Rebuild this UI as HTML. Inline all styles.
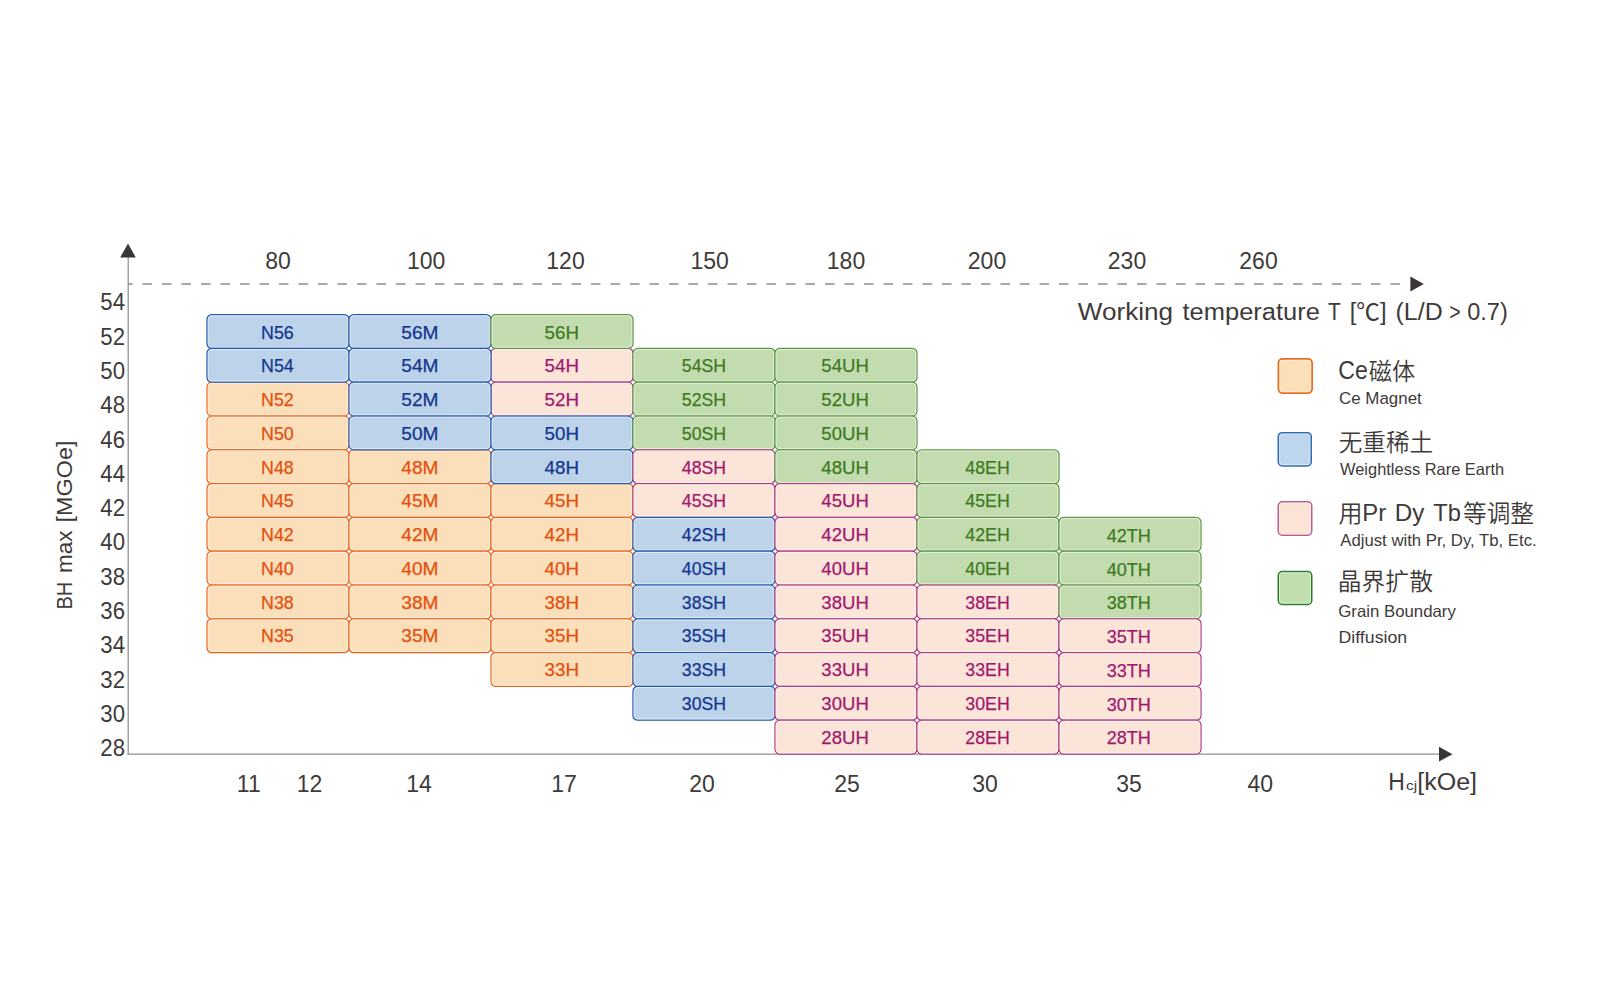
<!DOCTYPE html>
<html lang="zh">
<head>
<meta charset="utf-8">
<title>NdFeB grade chart</title>
<style>
html,body{margin:0;padding:0;background:#fff;}
body{width:1600px;height:999px;overflow:hidden;}
svg{display:block;}
text{font-family:"Liberation Sans","Noto Sans CJK SC",sans-serif;}
.ax{fill:#3e3a39;font-size:23px;}
.c{font-size:18.5px;text-anchor:middle;stroke-width:0.25px;}
.o rect{fill:#fbdfba;stroke:#ec631e;} .o text{fill:#e4500f;stroke:#e4500f;}
.b rect{fill:#bdd3ea;stroke:#2459ae;} .b text{fill:#12368f;stroke:#12368f;}
.p rect{fill:#fbe4d8;stroke:#ab3a84;} .p text{fill:#a2186e;stroke:#a2186e;}
.g rect{fill:#c2dcb0;stroke:#5f9443;} .g text{fill:#3f7a21;stroke:#3f7a21;}
rect.k{stroke-width:1.25;}
rect.hl{fill:none!important;stroke:#fff!important;stroke-opacity:0.55;stroke-width:1;}
.lz{fill:#3e3a39;font-size:24px;font-weight:350;}
.le{fill:#3e3a39;font-size:16.5px;}
</style>
</head>
<body>
<svg width="1600" height="999" viewBox="0 0 1600 999">
<rect x="0" y="0" width="1600" height="999" fill="#ffffff"/>

<line x1="128.2" y1="256" x2="128.2" y2="754.8" stroke="#909090" stroke-width="1.25"/>
<line x1="127.6" y1="754.2" x2="1440" y2="754.2" stroke="#909090" stroke-width="1.25"/>
<polygon points="128,243.5 135.8,257.5 120.2,257.5" fill="#3a3535"/>
<polygon points="1452.5,754.2 1439,746.8 1439,761.6" fill="#3a3535"/>
<line x1="128" y1="284" x2="1402" y2="284" stroke="#8e8e8e" stroke-width="1.4" stroke-dasharray="9.5 10" stroke-dashoffset="5"/>
<polygon points="1423.8,284 1410.4,276.6 1410.4,291.4" fill="#3a3535"/>
<g class="o"><rect class="k" x="207.0" y="382.2" width="142.0" height="33.8" rx="4.8" ry="4.8"/><rect class="hl" x="208.2" y="383.4" width="139.7" height="31.5" rx="3.6" ry="3.6"/><text class="c" x="277.4" y="406.2" textLength="32.7" lengthAdjust="spacingAndGlyphs">N52</text></g>
<g class="o"><rect class="k" x="207.0" y="416.0" width="142.0" height="33.8" rx="4.8" ry="4.8"/><rect class="hl" x="208.2" y="417.1" width="139.7" height="31.5" rx="3.6" ry="3.6"/><text class="c" x="277.4" y="439.9" textLength="32.7" lengthAdjust="spacingAndGlyphs">N50</text></g>
<g class="o"><rect class="k" x="207.0" y="449.8" width="142.0" height="33.8" rx="4.8" ry="4.8"/><rect class="hl" x="208.2" y="450.9" width="139.7" height="31.5" rx="3.6" ry="3.6"/><text class="c" x="277.4" y="473.7" textLength="32.7" lengthAdjust="spacingAndGlyphs">N48</text></g>
<g class="o"><rect class="k" x="349.0" y="449.8" width="142.0" height="33.8" rx="4.8" ry="4.8"/><rect class="hl" x="350.1" y="450.9" width="139.7" height="31.5" rx="3.6" ry="3.6"/><text class="c" x="419.9" y="473.7" textLength="37.2" lengthAdjust="spacingAndGlyphs">48M</text></g>
<g class="o"><rect class="k" x="207.0" y="483.6" width="142.0" height="33.8" rx="4.8" ry="4.8"/><rect class="hl" x="208.2" y="484.8" width="139.7" height="31.5" rx="3.6" ry="3.6"/><text class="c" x="277.4" y="507.4" textLength="32.7" lengthAdjust="spacingAndGlyphs">N45</text></g>
<g class="o"><rect class="k" x="349.0" y="483.6" width="142.0" height="33.8" rx="4.8" ry="4.8"/><rect class="hl" x="350.1" y="484.8" width="139.7" height="31.5" rx="3.6" ry="3.6"/><text class="c" x="419.9" y="507.4" textLength="37.2" lengthAdjust="spacingAndGlyphs">45M</text></g>
<g class="o"><rect class="k" x="491.0" y="483.6" width="142.0" height="33.8" rx="4.8" ry="4.8"/><rect class="hl" x="492.1" y="484.8" width="139.7" height="31.5" rx="3.6" ry="3.6"/><text class="c" x="561.8" y="507.4" textLength="34.4" lengthAdjust="spacingAndGlyphs">45H</text></g>
<g class="o"><rect class="k" x="207.0" y="517.4" width="142.0" height="33.8" rx="4.8" ry="4.8"/><rect class="hl" x="208.2" y="518.5" width="139.7" height="31.5" rx="3.6" ry="3.6"/><text class="c" x="277.4" y="541.2" textLength="32.7" lengthAdjust="spacingAndGlyphs">N42</text></g>
<g class="o"><rect class="k" x="349.0" y="517.4" width="142.0" height="33.8" rx="4.8" ry="4.8"/><rect class="hl" x="350.1" y="518.5" width="139.7" height="31.5" rx="3.6" ry="3.6"/><text class="c" x="419.9" y="541.2" textLength="37.2" lengthAdjust="spacingAndGlyphs">42M</text></g>
<g class="o"><rect class="k" x="491.0" y="517.4" width="142.0" height="33.8" rx="4.8" ry="4.8"/><rect class="hl" x="492.1" y="518.5" width="139.7" height="31.5" rx="3.6" ry="3.6"/><text class="c" x="561.8" y="541.2" textLength="34.4" lengthAdjust="spacingAndGlyphs">42H</text></g>
<g class="o"><rect class="k" x="207.0" y="551.2" width="142.0" height="33.8" rx="4.8" ry="4.8"/><rect class="hl" x="208.2" y="552.4" width="139.7" height="31.5" rx="3.6" ry="3.6"/><text class="c" x="277.4" y="575.0" textLength="32.7" lengthAdjust="spacingAndGlyphs">N40</text></g>
<g class="o"><rect class="k" x="349.0" y="551.2" width="142.0" height="33.8" rx="4.8" ry="4.8"/><rect class="hl" x="350.1" y="552.4" width="139.7" height="31.5" rx="3.6" ry="3.6"/><text class="c" x="419.9" y="575.0" textLength="37.2" lengthAdjust="spacingAndGlyphs">40M</text></g>
<g class="o"><rect class="k" x="491.0" y="551.2" width="142.0" height="33.8" rx="4.8" ry="4.8"/><rect class="hl" x="492.1" y="552.4" width="139.7" height="31.5" rx="3.6" ry="3.6"/><text class="c" x="561.8" y="575.0" textLength="34.4" lengthAdjust="spacingAndGlyphs">40H</text></g>
<g class="o"><rect class="k" x="207.0" y="585.0" width="142.0" height="33.8" rx="4.8" ry="4.8"/><rect class="hl" x="208.2" y="586.1" width="139.7" height="31.5" rx="3.6" ry="3.6"/><text class="c" x="277.4" y="608.7" textLength="32.7" lengthAdjust="spacingAndGlyphs">N38</text></g>
<g class="o"><rect class="k" x="349.0" y="585.0" width="142.0" height="33.8" rx="4.8" ry="4.8"/><rect class="hl" x="350.1" y="586.1" width="139.7" height="31.5" rx="3.6" ry="3.6"/><text class="c" x="419.9" y="608.7" textLength="37.2" lengthAdjust="spacingAndGlyphs">38M</text></g>
<g class="o"><rect class="k" x="491.0" y="585.0" width="142.0" height="33.8" rx="4.8" ry="4.8"/><rect class="hl" x="492.1" y="586.1" width="139.7" height="31.5" rx="3.6" ry="3.6"/><text class="c" x="561.8" y="608.7" textLength="34.4" lengthAdjust="spacingAndGlyphs">38H</text></g>
<g class="o"><rect class="k" x="207.0" y="618.8" width="142.0" height="33.8" rx="4.8" ry="4.8"/><rect class="hl" x="208.2" y="619.9" width="139.7" height="31.5" rx="3.6" ry="3.6"/><text class="c" x="277.4" y="642.4" textLength="32.7" lengthAdjust="spacingAndGlyphs">N35</text></g>
<g class="o"><rect class="k" x="349.0" y="618.8" width="142.0" height="33.8" rx="4.8" ry="4.8"/><rect class="hl" x="350.1" y="619.9" width="139.7" height="31.5" rx="3.6" ry="3.6"/><text class="c" x="419.9" y="642.4" textLength="37.2" lengthAdjust="spacingAndGlyphs">35M</text></g>
<g class="o"><rect class="k" x="491.0" y="618.8" width="142.0" height="33.8" rx="4.8" ry="4.8"/><rect class="hl" x="492.1" y="619.9" width="139.7" height="31.5" rx="3.6" ry="3.6"/><text class="c" x="561.8" y="642.4" textLength="34.4" lengthAdjust="spacingAndGlyphs">35H</text></g>
<g class="o"><rect class="k" x="491.0" y="652.6" width="142.0" height="33.8" rx="4.8" ry="4.8"/><rect class="hl" x="492.1" y="653.8" width="139.7" height="31.5" rx="3.6" ry="3.6"/><text class="c" x="561.8" y="676.2" textLength="34.4" lengthAdjust="spacingAndGlyphs">33H</text></g>
<g class="p"><rect class="k" x="491.0" y="348.4" width="142.0" height="33.8" rx="4.8" ry="4.8"/><rect class="hl" x="492.1" y="349.6" width="139.7" height="31.5" rx="3.6" ry="3.6"/><text class="c" x="561.8" y="372.4" textLength="34.4" lengthAdjust="spacingAndGlyphs">54H</text></g>
<g class="p"><rect class="k" x="491.0" y="382.2" width="142.0" height="33.8" rx="4.8" ry="4.8"/><rect class="hl" x="492.1" y="383.4" width="139.7" height="31.5" rx="3.6" ry="3.6"/><text class="c" x="561.8" y="406.2" textLength="34.4" lengthAdjust="spacingAndGlyphs">52H</text></g>
<g class="b"><rect class="k" x="207.0" y="314.6" width="142.0" height="33.8" rx="4.8" ry="4.8"/><rect class="hl" x="208.2" y="315.8" width="139.7" height="31.5" rx="3.6" ry="3.6"/><text class="c" x="277.4" y="338.7" textLength="32.7" lengthAdjust="spacingAndGlyphs">N56</text></g>
<g class="b"><rect class="k" x="349.0" y="314.6" width="142.0" height="33.8" rx="4.8" ry="4.8"/><rect class="hl" x="350.1" y="315.8" width="139.7" height="31.5" rx="3.6" ry="3.6"/><text class="c" x="419.9" y="338.7" textLength="37.2" lengthAdjust="spacingAndGlyphs">56M</text></g>
<g class="g"><rect class="k" x="491.0" y="314.6" width="142.0" height="33.8" rx="4.8" ry="4.8"/><rect class="hl" x="492.1" y="315.8" width="139.7" height="31.5" rx="3.6" ry="3.6"/><text class="c" x="561.8" y="338.7" textLength="34.4" lengthAdjust="spacingAndGlyphs">56H</text></g>
<g class="b"><rect class="k" x="207.0" y="348.4" width="142.0" height="33.8" rx="4.8" ry="4.8"/><rect class="hl" x="208.2" y="349.6" width="139.7" height="31.5" rx="3.6" ry="3.6"/><text class="c" x="277.4" y="372.4" textLength="32.7" lengthAdjust="spacingAndGlyphs">N54</text></g>
<g class="b"><rect class="k" x="349.0" y="348.4" width="142.0" height="33.8" rx="4.8" ry="4.8"/><rect class="hl" x="350.1" y="349.6" width="139.7" height="31.5" rx="3.6" ry="3.6"/><text class="c" x="419.9" y="372.4" textLength="37.2" lengthAdjust="spacingAndGlyphs">54M</text></g>
<g class="g"><rect class="k" x="633.0" y="348.4" width="142.0" height="33.8" rx="4.8" ry="4.8"/><rect class="hl" x="634.1" y="349.6" width="139.7" height="31.5" rx="3.6" ry="3.6"/><text class="c" x="704.0" y="372.4" textLength="44.3" lengthAdjust="spacingAndGlyphs">54SH</text></g>
<g class="g"><rect class="k" x="775.0" y="348.4" width="142.0" height="33.8" rx="4.8" ry="4.8"/><rect class="hl" x="776.1" y="349.6" width="139.7" height="31.5" rx="3.6" ry="3.6"/><text class="c" x="845.1" y="372.4" textLength="47.5" lengthAdjust="spacingAndGlyphs">54UH</text></g>
<g class="b"><rect class="k" x="349.0" y="382.2" width="142.0" height="33.8" rx="4.8" ry="4.8"/><rect class="hl" x="350.1" y="383.4" width="139.7" height="31.5" rx="3.6" ry="3.6"/><text class="c" x="419.9" y="406.2" textLength="37.2" lengthAdjust="spacingAndGlyphs">52M</text></g>
<g class="g"><rect class="k" x="633.0" y="382.2" width="142.0" height="33.8" rx="4.8" ry="4.8"/><rect class="hl" x="634.1" y="383.4" width="139.7" height="31.5" rx="3.6" ry="3.6"/><text class="c" x="704.0" y="406.2" textLength="44.3" lengthAdjust="spacingAndGlyphs">52SH</text></g>
<g class="g"><rect class="k" x="775.0" y="382.2" width="142.0" height="33.8" rx="4.8" ry="4.8"/><rect class="hl" x="776.1" y="383.4" width="139.7" height="31.5" rx="3.6" ry="3.6"/><text class="c" x="845.1" y="406.2" textLength="47.5" lengthAdjust="spacingAndGlyphs">52UH</text></g>
<g class="b"><rect class="k" x="349.0" y="416.0" width="142.0" height="33.8" rx="4.8" ry="4.8"/><rect class="hl" x="350.1" y="417.1" width="139.7" height="31.5" rx="3.6" ry="3.6"/><text class="c" x="419.9" y="439.9" textLength="37.2" lengthAdjust="spacingAndGlyphs">50M</text></g>
<g class="b"><rect class="k" x="491.0" y="416.0" width="142.0" height="33.8" rx="4.8" ry="4.8"/><rect class="hl" x="492.1" y="417.1" width="139.7" height="31.5" rx="3.6" ry="3.6"/><text class="c" x="561.8" y="439.9" textLength="34.4" lengthAdjust="spacingAndGlyphs">50H</text></g>
<g class="g"><rect class="k" x="633.0" y="416.0" width="142.0" height="33.8" rx="4.8" ry="4.8"/><rect class="hl" x="634.1" y="417.1" width="139.7" height="31.5" rx="3.6" ry="3.6"/><text class="c" x="704.0" y="439.9" textLength="44.3" lengthAdjust="spacingAndGlyphs">50SH</text></g>
<g class="g"><rect class="k" x="775.0" y="416.0" width="142.0" height="33.8" rx="4.8" ry="4.8"/><rect class="hl" x="776.1" y="417.1" width="139.7" height="31.5" rx="3.6" ry="3.6"/><text class="c" x="845.1" y="439.9" textLength="47.5" lengthAdjust="spacingAndGlyphs">50UH</text></g>
<g class="b"><rect class="k" x="491.0" y="449.8" width="142.0" height="33.8" rx="4.8" ry="4.8"/><rect class="hl" x="492.1" y="450.9" width="139.7" height="31.5" rx="3.6" ry="3.6"/><text class="c" x="561.8" y="473.7" textLength="34.4" lengthAdjust="spacingAndGlyphs">48H</text></g>
<g class="p"><rect class="k" x="633.0" y="449.8" width="142.0" height="33.8" rx="4.8" ry="4.8"/><rect class="hl" x="634.1" y="450.9" width="139.7" height="31.5" rx="3.6" ry="3.6"/><text class="c" x="704.0" y="473.7" textLength="44.3" lengthAdjust="spacingAndGlyphs">48SH</text></g>
<g class="g"><rect class="k" x="775.0" y="449.8" width="142.0" height="33.8" rx="4.8" ry="4.8"/><rect class="hl" x="776.1" y="450.9" width="139.7" height="31.5" rx="3.6" ry="3.6"/><text class="c" x="845.1" y="473.7" textLength="47.5" lengthAdjust="spacingAndGlyphs">48UH</text></g>
<g class="g"><rect class="k" x="917.0" y="449.8" width="142.0" height="33.8" rx="4.8" ry="4.8"/><rect class="hl" x="918.1" y="450.9" width="139.7" height="31.5" rx="3.6" ry="3.6"/><text class="c" x="987.5" y="473.7" textLength="44.4" lengthAdjust="spacingAndGlyphs">48EH</text></g>
<g class="p"><rect class="k" x="633.0" y="483.6" width="142.0" height="33.8" rx="4.8" ry="4.8"/><rect class="hl" x="634.1" y="484.8" width="139.7" height="31.5" rx="3.6" ry="3.6"/><text class="c" x="704.0" y="507.4" textLength="44.3" lengthAdjust="spacingAndGlyphs">45SH</text></g>
<g class="p"><rect class="k" x="775.0" y="483.6" width="142.0" height="33.8" rx="4.8" ry="4.8"/><rect class="hl" x="776.1" y="484.8" width="139.7" height="31.5" rx="3.6" ry="3.6"/><text class="c" x="845.1" y="507.4" textLength="47.5" lengthAdjust="spacingAndGlyphs">45UH</text></g>
<g class="g"><rect class="k" x="917.0" y="483.6" width="142.0" height="33.8" rx="4.8" ry="4.8"/><rect class="hl" x="918.1" y="484.8" width="139.7" height="31.5" rx="3.6" ry="3.6"/><text class="c" x="987.5" y="507.4" textLength="44.4" lengthAdjust="spacingAndGlyphs">45EH</text></g>
<g class="b"><rect class="k" x="633.0" y="517.4" width="142.0" height="33.8" rx="4.8" ry="4.8"/><rect class="hl" x="634.1" y="518.5" width="139.7" height="31.5" rx="3.6" ry="3.6"/><text class="c" x="704.0" y="541.2" textLength="44.3" lengthAdjust="spacingAndGlyphs">42SH</text></g>
<g class="p"><rect class="k" x="775.0" y="517.4" width="142.0" height="33.8" rx="4.8" ry="4.8"/><rect class="hl" x="776.1" y="518.5" width="139.7" height="31.5" rx="3.6" ry="3.6"/><text class="c" x="845.1" y="541.2" textLength="47.5" lengthAdjust="spacingAndGlyphs">42UH</text></g>
<g class="g"><rect class="k" x="917.0" y="517.4" width="142.0" height="33.8" rx="4.8" ry="4.8"/><rect class="hl" x="918.1" y="518.5" width="139.7" height="31.5" rx="3.6" ry="3.6"/><text class="c" x="987.5" y="541.2" textLength="44.4" lengthAdjust="spacingAndGlyphs">42EH</text></g>
<g class="g"><rect class="k" x="1059.0" y="517.4" width="142.0" height="33.8" rx="4.8" ry="4.8"/><rect class="hl" x="1060.2" y="518.5" width="139.7" height="31.5" rx="3.6" ry="3.6"/><text class="c" x="1128.8" y="541.9" textLength="44.2" lengthAdjust="spacingAndGlyphs">42TH</text></g>
<g class="b"><rect class="k" x="633.0" y="551.2" width="142.0" height="33.8" rx="4.8" ry="4.8"/><rect class="hl" x="634.1" y="552.4" width="139.7" height="31.5" rx="3.6" ry="3.6"/><text class="c" x="704.0" y="575.0" textLength="44.3" lengthAdjust="spacingAndGlyphs">40SH</text></g>
<g class="p"><rect class="k" x="775.0" y="551.2" width="142.0" height="33.8" rx="4.8" ry="4.8"/><rect class="hl" x="776.1" y="552.4" width="139.7" height="31.5" rx="3.6" ry="3.6"/><text class="c" x="845.1" y="575.0" textLength="47.5" lengthAdjust="spacingAndGlyphs">40UH</text></g>
<g class="g"><rect class="k" x="917.0" y="551.2" width="142.0" height="33.8" rx="4.8" ry="4.8"/><rect class="hl" x="918.1" y="552.4" width="139.7" height="31.5" rx="3.6" ry="3.6"/><text class="c" x="987.5" y="575.0" textLength="44.4" lengthAdjust="spacingAndGlyphs">40EH</text></g>
<g class="g"><rect class="k" x="1059.0" y="551.2" width="142.0" height="33.8" rx="4.8" ry="4.8"/><rect class="hl" x="1060.2" y="552.4" width="139.7" height="31.5" rx="3.6" ry="3.6"/><text class="c" x="1128.8" y="575.7" textLength="44.2" lengthAdjust="spacingAndGlyphs">40TH</text></g>
<g class="b"><rect class="k" x="633.0" y="585.0" width="142.0" height="33.8" rx="4.8" ry="4.8"/><rect class="hl" x="634.1" y="586.1" width="139.7" height="31.5" rx="3.6" ry="3.6"/><text class="c" x="704.0" y="608.7" textLength="44.3" lengthAdjust="spacingAndGlyphs">38SH</text></g>
<g class="p"><rect class="k" x="775.0" y="585.0" width="142.0" height="33.8" rx="4.8" ry="4.8"/><rect class="hl" x="776.1" y="586.1" width="139.7" height="31.5" rx="3.6" ry="3.6"/><text class="c" x="845.1" y="608.7" textLength="47.5" lengthAdjust="spacingAndGlyphs">38UH</text></g>
<g class="p"><rect class="k" x="917.0" y="585.0" width="142.0" height="33.8" rx="4.8" ry="4.8"/><rect class="hl" x="918.1" y="586.1" width="139.7" height="31.5" rx="3.6" ry="3.6"/><text class="c" x="987.5" y="608.7" textLength="44.4" lengthAdjust="spacingAndGlyphs">38EH</text></g>
<g class="g"><rect class="k" x="1059.0" y="585.0" width="142.0" height="33.8" rx="4.8" ry="4.8"/><rect class="hl" x="1060.2" y="586.1" width="139.7" height="31.5" rx="3.6" ry="3.6"/><text class="c" x="1128.8" y="609.4" textLength="44.2" lengthAdjust="spacingAndGlyphs">38TH</text></g>
<g class="b"><rect class="k" x="633.0" y="618.8" width="142.0" height="33.8" rx="4.8" ry="4.8"/><rect class="hl" x="634.1" y="619.9" width="139.7" height="31.5" rx="3.6" ry="3.6"/><text class="c" x="704.0" y="642.4" textLength="44.3" lengthAdjust="spacingAndGlyphs">35SH</text></g>
<g class="p"><rect class="k" x="775.0" y="618.8" width="142.0" height="33.8" rx="4.8" ry="4.8"/><rect class="hl" x="776.1" y="619.9" width="139.7" height="31.5" rx="3.6" ry="3.6"/><text class="c" x="845.1" y="642.4" textLength="47.5" lengthAdjust="spacingAndGlyphs">35UH</text></g>
<g class="p"><rect class="k" x="917.0" y="618.8" width="142.0" height="33.8" rx="4.8" ry="4.8"/><rect class="hl" x="918.1" y="619.9" width="139.7" height="31.5" rx="3.6" ry="3.6"/><text class="c" x="987.5" y="642.4" textLength="44.4" lengthAdjust="spacingAndGlyphs">35EH</text></g>
<g class="p"><rect class="k" x="1059.0" y="618.8" width="142.0" height="33.8" rx="4.8" ry="4.8"/><rect class="hl" x="1060.2" y="619.9" width="139.7" height="31.5" rx="3.6" ry="3.6"/><text class="c" x="1128.8" y="643.1" textLength="44.2" lengthAdjust="spacingAndGlyphs">35TH</text></g>
<g class="b"><rect class="k" x="633.0" y="652.6" width="142.0" height="33.8" rx="4.8" ry="4.8"/><rect class="hl" x="634.1" y="653.8" width="139.7" height="31.5" rx="3.6" ry="3.6"/><text class="c" x="704.0" y="676.2" textLength="44.3" lengthAdjust="spacingAndGlyphs">33SH</text></g>
<g class="p"><rect class="k" x="775.0" y="652.6" width="142.0" height="33.8" rx="4.8" ry="4.8"/><rect class="hl" x="776.1" y="653.8" width="139.7" height="31.5" rx="3.6" ry="3.6"/><text class="c" x="845.1" y="676.2" textLength="47.5" lengthAdjust="spacingAndGlyphs">33UH</text></g>
<g class="p"><rect class="k" x="917.0" y="652.6" width="142.0" height="33.8" rx="4.8" ry="4.8"/><rect class="hl" x="918.1" y="653.8" width="139.7" height="31.5" rx="3.6" ry="3.6"/><text class="c" x="987.5" y="676.2" textLength="44.4" lengthAdjust="spacingAndGlyphs">33EH</text></g>
<g class="p"><rect class="k" x="1059.0" y="652.6" width="142.0" height="33.8" rx="4.8" ry="4.8"/><rect class="hl" x="1060.2" y="653.8" width="139.7" height="31.5" rx="3.6" ry="3.6"/><text class="c" x="1128.8" y="676.9" textLength="44.2" lengthAdjust="spacingAndGlyphs">33TH</text></g>
<g class="b"><rect class="k" x="633.0" y="686.4" width="142.0" height="33.8" rx="4.8" ry="4.8"/><rect class="hl" x="634.1" y="687.5" width="139.7" height="31.5" rx="3.6" ry="3.6"/><text class="c" x="704.0" y="710.0" textLength="44.3" lengthAdjust="spacingAndGlyphs">30SH</text></g>
<g class="p"><rect class="k" x="775.0" y="686.4" width="142.0" height="33.8" rx="4.8" ry="4.8"/><rect class="hl" x="776.1" y="687.5" width="139.7" height="31.5" rx="3.6" ry="3.6"/><text class="c" x="845.1" y="710.0" textLength="47.5" lengthAdjust="spacingAndGlyphs">30UH</text></g>
<g class="p"><rect class="k" x="917.0" y="686.4" width="142.0" height="33.8" rx="4.8" ry="4.8"/><rect class="hl" x="918.1" y="687.5" width="139.7" height="31.5" rx="3.6" ry="3.6"/><text class="c" x="987.5" y="710.0" textLength="44.4" lengthAdjust="spacingAndGlyphs">30EH</text></g>
<g class="p"><rect class="k" x="1059.0" y="686.4" width="142.0" height="33.8" rx="4.8" ry="4.8"/><rect class="hl" x="1060.2" y="687.5" width="139.7" height="31.5" rx="3.6" ry="3.6"/><text class="c" x="1128.8" y="710.7" textLength="44.2" lengthAdjust="spacingAndGlyphs">30TH</text></g>
<g class="p"><rect class="k" x="775.0" y="720.2" width="142.0" height="33.8" rx="4.8" ry="4.8"/><rect class="hl" x="776.1" y="721.4" width="139.7" height="31.5" rx="3.6" ry="3.6"/><text class="c" x="845.1" y="743.7" textLength="47.5" lengthAdjust="spacingAndGlyphs">28UH</text></g>
<g class="p"><rect class="k" x="917.0" y="720.2" width="142.0" height="33.8" rx="4.8" ry="4.8"/><rect class="hl" x="918.1" y="721.4" width="139.7" height="31.5" rx="3.6" ry="3.6"/><text class="c" x="987.5" y="743.7" textLength="44.4" lengthAdjust="spacingAndGlyphs">28EH</text></g>
<g class="p"><rect class="k" x="1059.0" y="720.2" width="142.0" height="33.8" rx="4.8" ry="4.8"/><rect class="hl" x="1060.2" y="721.4" width="139.7" height="31.5" rx="3.6" ry="3.6"/><text class="c" x="1128.8" y="744.4" textLength="44.2" lengthAdjust="spacingAndGlyphs">28TH</text></g>
<text class="ax" x="125.0" y="310.2" text-anchor="end" textLength="24.7" lengthAdjust="spacingAndGlyphs">54</text>
<text class="ax" x="125.0" y="344.5" text-anchor="end" textLength="24.7" lengthAdjust="spacingAndGlyphs">52</text>
<text class="ax" x="125.0" y="378.8" text-anchor="end" textLength="24.7" lengthAdjust="spacingAndGlyphs">50</text>
<text class="ax" x="125.0" y="413.2" text-anchor="end" textLength="24.7" lengthAdjust="spacingAndGlyphs">48</text>
<text class="ax" x="125.0" y="447.5" text-anchor="end" textLength="24.7" lengthAdjust="spacingAndGlyphs">46</text>
<text class="ax" x="125.0" y="481.8" text-anchor="end" textLength="24.7" lengthAdjust="spacingAndGlyphs">44</text>
<text class="ax" x="125.0" y="516.1" text-anchor="end" textLength="24.7" lengthAdjust="spacingAndGlyphs">42</text>
<text class="ax" x="125.0" y="550.4" text-anchor="end" textLength="24.7" lengthAdjust="spacingAndGlyphs">40</text>
<text class="ax" x="125.0" y="584.8" text-anchor="end" textLength="24.7" lengthAdjust="spacingAndGlyphs">38</text>
<text class="ax" x="125.0" y="619.1" text-anchor="end" textLength="24.7" lengthAdjust="spacingAndGlyphs">36</text>
<text class="ax" x="125.0" y="653.4" text-anchor="end" textLength="24.7" lengthAdjust="spacingAndGlyphs">34</text>
<text class="ax" x="125.0" y="687.7" text-anchor="end" textLength="24.7" lengthAdjust="spacingAndGlyphs">32</text>
<text class="ax" x="125.0" y="722.0" text-anchor="end" textLength="24.7" lengthAdjust="spacingAndGlyphs">30</text>
<text class="ax" x="125.0" y="756.4" text-anchor="end" textLength="24.7" lengthAdjust="spacingAndGlyphs">28</text>
<text class="ax" x="278.1" y="268.7" text-anchor="middle">80</text>
<text class="ax" x="426.1" y="268.7" text-anchor="middle">100</text>
<text class="ax" x="565.5" y="268.7" text-anchor="middle">120</text>
<text class="ax" x="709.6" y="268.7" text-anchor="middle">150</text>
<text class="ax" x="846.0" y="268.7" text-anchor="middle">180</text>
<text class="ax" x="987.0" y="268.7" text-anchor="middle">200</text>
<text class="ax" x="1127.0" y="268.7" text-anchor="middle">230</text>
<text class="ax" x="1258.5" y="268.7" text-anchor="middle">260</text>
<text class="ax" x="248.8" y="791.8" text-anchor="middle">11</text>
<text class="ax" x="309.5" y="791.8" text-anchor="middle">12</text>
<text class="ax" x="419.0" y="791.8" text-anchor="middle">14</text>
<text class="ax" x="564.0" y="791.8" text-anchor="middle">17</text>
<text class="ax" x="702.0" y="791.8" text-anchor="middle">20</text>
<text class="ax" x="847.0" y="791.8" text-anchor="middle">25</text>
<text class="ax" x="985.0" y="791.8" text-anchor="middle">30</text>
<text class="ax" x="1129.0" y="791.8" text-anchor="middle">35</text>
<text class="ax" x="1260.2" y="791.8" text-anchor="middle">40</text>
<text class="ax" id="bh0" style="font-size:22px" transform="translate(71.5,609.60) rotate(-90)" textLength="27.80" lengthAdjust="spacingAndGlyphs">BH</text>
<text class="ax" id="bh1" style="font-size:22px" transform="translate(71.5,572.90) rotate(-90)" textLength="42.20" lengthAdjust="spacingAndGlyphs">max</text>
<text class="ax" id="bh2" style="font-size:22px" transform="translate(71.5,522.40) rotate(-90)" textLength="81.90" lengthAdjust="spacingAndGlyphs">[MGOe]</text>
<rect x="1278.40" y="358.90" width="33.70" height="34.20" rx="4" ry="4" fill="#fbdfb8" stroke="#ec6a1c" stroke-width="1.75"/>
<rect x="1279.78" y="360.27" width="30.95" height="31.45" rx="3" ry="3" fill="none" stroke="#ffffff" stroke-opacity="0.45" stroke-width="1"/>
<rect x="1278.30" y="432.70" width="32.90" height="33.25" rx="4" ry="4" fill="#bdd6ee" stroke="#2f6db5" stroke-width="1.60"/>
<rect x="1279.60" y="434.00" width="30.30" height="30.65" rx="3" ry="3" fill="none" stroke="#ffffff" stroke-opacity="0.45" stroke-width="1"/>
<rect x="1278.25" y="501.75" width="33.50" height="33.50" rx="4" ry="4" fill="#fbe3d6" stroke="#bf5a8e" stroke-width="1.50"/>
<rect x="1279.50" y="503.00" width="31.00" height="31.00" rx="3" ry="3" fill="none" stroke="#ffffff" stroke-opacity="0.45" stroke-width="1"/>
<rect x="1278.25" y="571.50" width="33.50" height="33.00" rx="4" ry="4" fill="#c0dfad" stroke="#2b7a2f" stroke-width="1.50"/>
<rect x="1279.50" y="572.75" width="31.00" height="30.50" rx="3" ry="3" fill="none" stroke="#ffffff" stroke-opacity="0.45" stroke-width="1"/>
<text class="ax" id="w1" x="1077.75" y="319.5" style="font-size:23px" textLength="95.29" lengthAdjust="spacingAndGlyphs">Working</text>
<text class="ax" id="w2" x="1182.50" y="319.5" style="font-size:23px" textLength="137.37" lengthAdjust="spacingAndGlyphs">temperature</text>
<text class="ax" id="w3" x="1328.00" y="319.5" style="font-size:23px" textLength="12.76" lengthAdjust="spacingAndGlyphs">T</text>
<text class="ax" id="w4" x="1349.75" y="319.5" style="font-size:23px" textLength="36.88" lengthAdjust="spacingAndGlyphs">[℃]</text>
<text class="ax" id="w5" x="1395.50" y="319.5" style="font-size:23px" textLength="47.20" lengthAdjust="spacingAndGlyphs">(L/D</text>
<text class="ax" id="w6" x="1449.25" y="319.5" style="font-size:23px" textLength="11.39" lengthAdjust="spacingAndGlyphs">&gt;</text>
<text class="ax" id="w7" x="1467.25" y="319.5" style="font-size:23px" textLength="40.54" lengthAdjust="spacingAndGlyphs">0.7)</text>
<text class="lz" id="l1a" x="1338.25" y="378.9" style="font-size:25px" textLength="29.57" lengthAdjust="spacingAndGlyphs">Ce</text>
<text class="lz" id="l1b" x="1368.75" y="379.6" style="font-size:24px" textLength="46.50" lengthAdjust="spacingAndGlyphs">磁体</text>
<text class="le" id="l1e" x="1339.00" y="404.4" style="font-size:16.3px" textLength="82.76" lengthAdjust="spacingAndGlyphs">Ce Magnet</text>
<text class="lz" id="l2a" x="1338.75" y="450.6" style="font-size:24px" textLength="94.35" lengthAdjust="spacingAndGlyphs">无重稀土</text>
<text class="le" id="l2e" x="1340.00" y="475.1" style="font-size:16.5px" textLength="164.18" lengthAdjust="spacingAndGlyphs">Weightless Rare Earth</text>
<text class="lz" id="l3a" x="1338.50" y="522.4" style="font-size:24px" textLength="24.00" lengthAdjust="spacingAndGlyphs">用</text>
<text class="lz" id="l3b" x="1362.25" y="520.9" style="font-size:24px" textLength="23.90" lengthAdjust="spacingAndGlyphs">Pr</text>
<text class="lz" id="l3c" x="1394.75" y="520.9" style="font-size:24px" textLength="29.59" lengthAdjust="spacingAndGlyphs">Dy</text>
<text class="lz" id="l3d" x="1433.25" y="520.9" style="font-size:24px" textLength="27.67" lengthAdjust="spacingAndGlyphs">Tb</text>
<text class="lz" id="l3f" x="1463.00" y="522.4" style="font-size:24px" textLength="70.95" lengthAdjust="spacingAndGlyphs">等调整</text>
<text class="le" id="l3e" x="1340.25" y="546.3" style="font-size:16.3px" textLength="196.42" lengthAdjust="spacingAndGlyphs">Adjust with Pr, Dy, Tb, Etc.</text>
<text class="lz" id="l4a" x="1337.75" y="590.4" style="font-size:24px" textLength="95.25" lengthAdjust="spacingAndGlyphs">晶界扩散</text>
<text class="le" id="l4e" x="1338.25" y="617.2" style="font-size:16.5px" textLength="117.53" lengthAdjust="spacingAndGlyphs">Grain Boundary</text>
<text class="le" id="l4f" x="1338.50" y="643.0" style="font-size:16.5px" textLength="68.66" lengthAdjust="spacingAndGlyphs">Diffusion</text>
<text class="ax" id="h1" x="1388.25" y="789.7" style="font-size:23px" textLength="16.57" lengthAdjust="spacingAndGlyphs">H</text>
<text class="ax" id="h2" x="1406.00" y="790.2" style="font-size:13px" textLength="11.14" lengthAdjust="spacingAndGlyphs">cj</text>
<text class="ax" id="h3" x="1417.25" y="789.7" style="font-size:23px" textLength="59.82" lengthAdjust="spacingAndGlyphs">[kOe]</text>
</svg>
</body>
</html>
